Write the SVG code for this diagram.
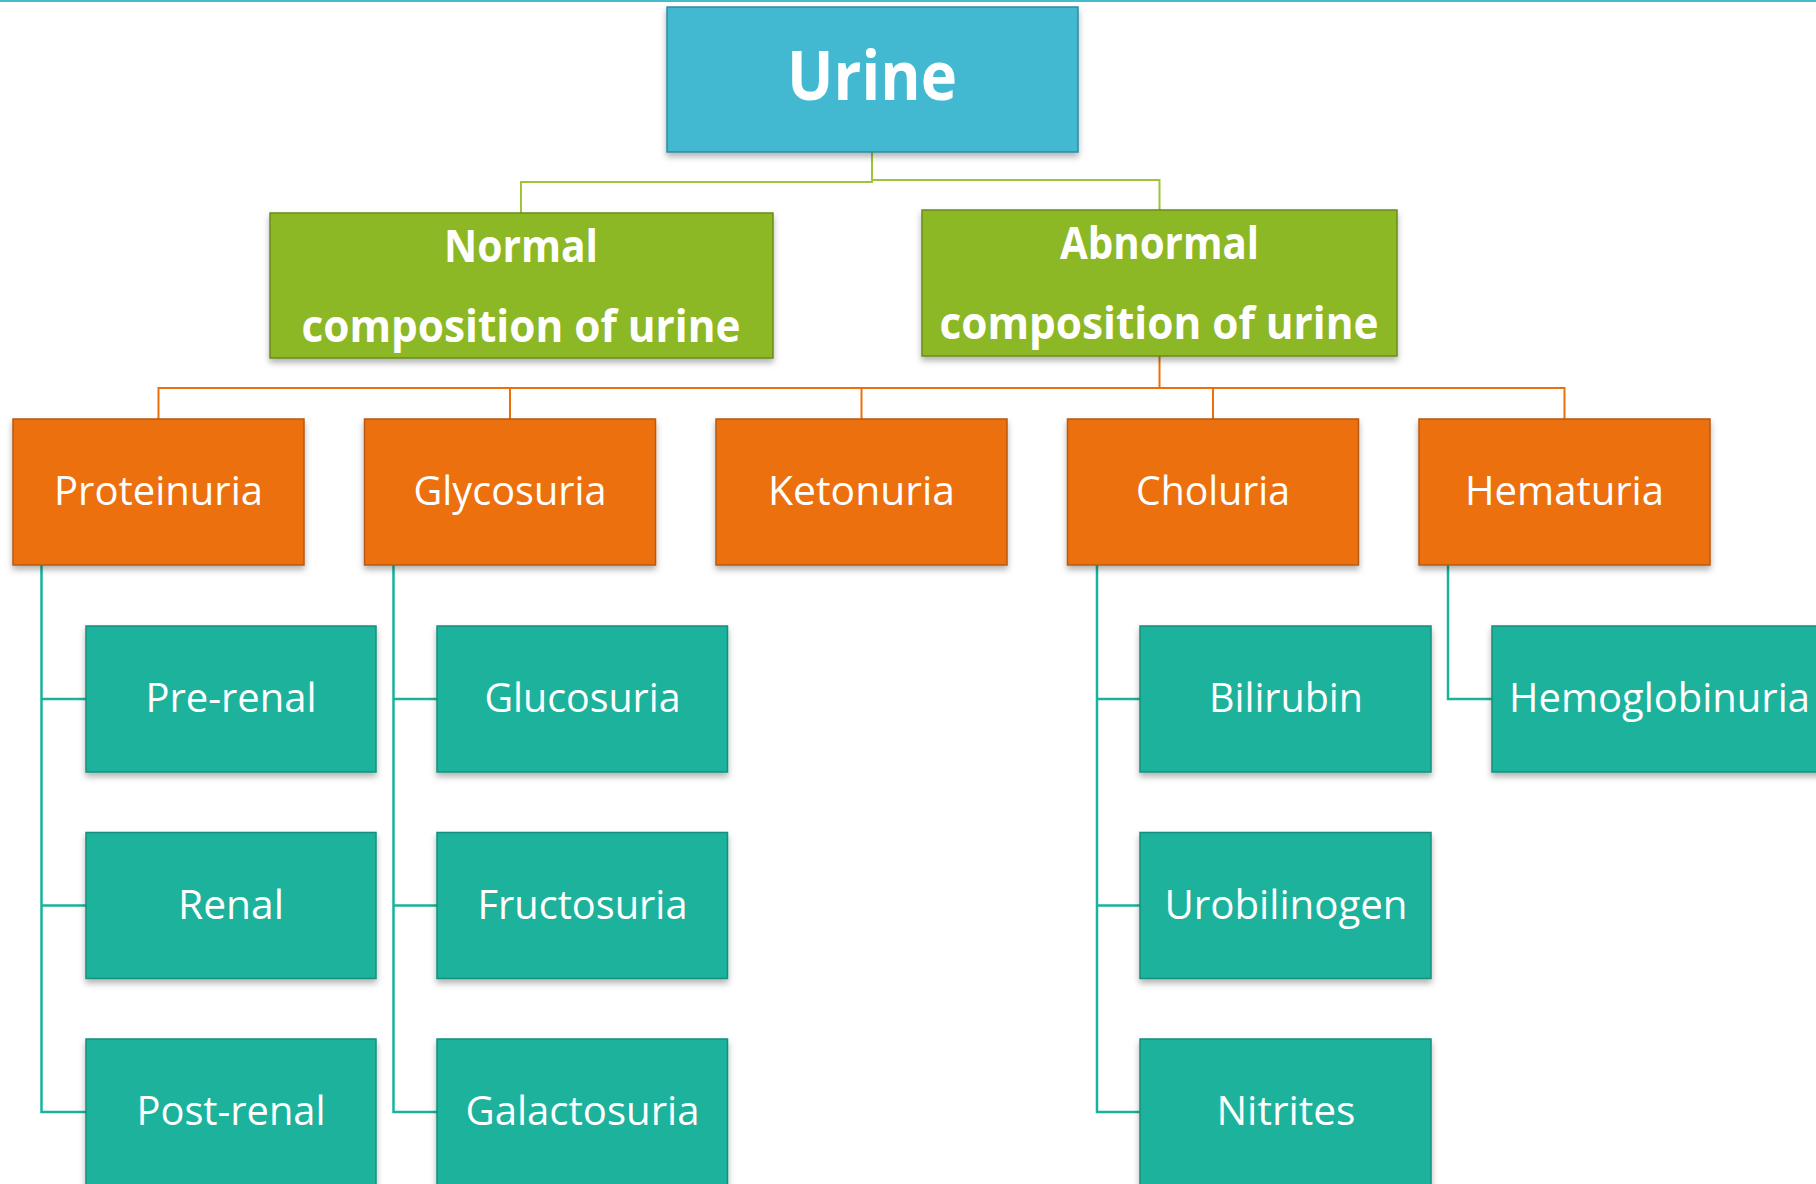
<svg xmlns="http://www.w3.org/2000/svg" width="1816" height="1184" viewBox="0 0 1816 1184">
<defs>
<filter id="sh" x="-10%" y="-10%" width="120%" height="130%">
<feDropShadow dx="0" dy="4" stdDeviation="3" flood-color="#000" flood-opacity="0.3"/>
</filter>
</defs>
<style>
.blue{fill:#42B8D1;stroke:#2E8CA0;stroke-width:1.5}
.green{fill:#8DB825;stroke:#6A8C1A;stroke-width:1.5}
.orange{fill:#EC700A;stroke:#B85A12;stroke-width:1.5}
.teal{fill:#1BB29C;stroke:#15907E;stroke-width:1.5}
.lbl{font-family:"Open Sans","Noto Sans",sans-serif;font-size:40px;fill:#fff;text-anchor:middle}
.title{font-family:"Open Sans","Noto Sans",sans-serif;font-weight:bold;font-size:68px;fill:#fff;text-anchor:middle}
.comic{font-family:"Open Sans","Noto Sans",sans-serif;font-weight:bold;font-size:44px;fill:#fff;text-anchor:middle}
.cg{fill:none;stroke:#9DC43A;stroke-width:2}
.co{fill:none;stroke:#EC700A;stroke-width:2}
.ct{fill:none;stroke:#1BB29C;stroke-width:2.5}
</style>
<rect x="0" y="0" width="1816" height="2" fill="#45BCCD"/>
<g id="connectors">
<path class="cg" d="M872,152 V182 H521 V213"/>
<path class="cg" d="M872,180 H1159.5 V210"/>
<path class="co" d="M1159.5,356 V388"/>
<path class="co" d="M158.5,419 V388 H1564.5 V419"/>
<path class="co" d="M510,388 V419"/>
<path class="co" d="M861.5,388 V419"/>
<path class="co" d="M1213,388 V419"/>
<path class="ct" d="M41.5,565 V1112 H86 M41.5,699 H86 M41.5,905.5 H86"/>
<path class="ct" d="M393.5,565 V1112 H437 M393.5,699 H437 M393.5,905.5 H437"/>
<path class="ct" d="M1097,565 V1112 H1140 M1097,699 H1140 M1097,905.5 H1140"/>
<path class="ct" d="M1448,565 V699 H1492"/>
</g>
<g id="urine"><rect class="blue" filter="url(#sh)" x="667" y="7" width="411" height="145"/><text class="title" x="872" y="100" textLength="170" lengthAdjust="spacingAndGlyphs">Urine</text></g>
<g id="normal"><rect class="green" filter="url(#sh)" x="270" y="213" width="503" height="145"/><text class="comic" x="521" y="262" textLength="154" lengthAdjust="spacingAndGlyphs">Normal</text><text class="comic" x="521" y="342" textLength="439" lengthAdjust="spacingAndGlyphs">composition of urine</text></g>
<g id="abnormal"><rect class="green" filter="url(#sh)" x="922" y="210" width="475" height="146"/><text class="comic" x="1159.5" y="259" textLength="199" lengthAdjust="spacingAndGlyphs">Abnormal</text><text class="comic" x="1159" y="339" textLength="439" lengthAdjust="spacingAndGlyphs">composition of urine</text></g>
<g id="proteinuria"><rect class="orange" filter="url(#sh)" x="13" y="419" width="291" height="146"/><text class="lbl" x="158.5" y="505" textLength="209" lengthAdjust="spacingAndGlyphs">Proteinuria</text></g>
<g id="glycosuria"><rect class="orange" filter="url(#sh)" x="364.5" y="419" width="291" height="146"/><text class="lbl" x="510" y="505" textLength="193" lengthAdjust="spacingAndGlyphs">Glycosuria</text></g>
<g id="ketonuria"><rect class="orange" filter="url(#sh)" x="716" y="419" width="291" height="146"/><text class="lbl" x="861.5" y="505" textLength="187" lengthAdjust="spacingAndGlyphs">Ketonuria</text></g>
<g id="choluria"><rect class="orange" filter="url(#sh)" x="1067.5" y="419" width="291" height="146"/><text class="lbl" x="1213" y="505" textLength="154" lengthAdjust="spacingAndGlyphs">Choluria</text></g>
<g id="hematuria"><rect class="orange" filter="url(#sh)" x="1419" y="419" width="291" height="146"/><text class="lbl" x="1564.5" y="505" textLength="199" lengthAdjust="spacingAndGlyphs">Hematuria</text></g>
<g id="prerenal"><rect class="teal" filter="url(#sh)" x="86" y="626" width="290" height="146"/><text class="lbl" x="231" y="712" textLength="171" lengthAdjust="spacingAndGlyphs">Pre-renal</text></g>
<g id="renal"><rect class="teal" filter="url(#sh)" x="86" y="832.5" width="290" height="146"/><text class="lbl" x="231" y="918.5" textLength="106" lengthAdjust="spacingAndGlyphs">Renal</text></g>
<g id="postrenal"><rect class="teal" filter="url(#sh)" x="86" y="1039" width="290" height="146"/><text class="lbl" x="231" y="1125" textLength="189" lengthAdjust="spacingAndGlyphs">Post-renal</text></g>
<g id="glucosuria"><rect class="teal" filter="url(#sh)" x="437" y="626" width="290.5" height="146"/><text class="lbl" x="582.5" y="712" textLength="196" lengthAdjust="spacingAndGlyphs">Glucosuria</text></g>
<g id="fructosuria"><rect class="teal" filter="url(#sh)" x="437" y="832.5" width="290.5" height="146"/><text class="lbl" x="582.5" y="918.5" textLength="210" lengthAdjust="spacingAndGlyphs">Fructosuria</text></g>
<g id="galactosuria"><rect class="teal" filter="url(#sh)" x="437" y="1039" width="290.5" height="146"/><text class="lbl" x="582.5" y="1125" textLength="234" lengthAdjust="spacingAndGlyphs">Galactosuria</text></g>
<g id="bilirubin"><rect class="teal" filter="url(#sh)" x="1140" y="626" width="291" height="146"/><text class="lbl" x="1286" y="712" textLength="154" lengthAdjust="spacingAndGlyphs">Bilirubin</text></g>
<g id="urobilinogen"><rect class="teal" filter="url(#sh)" x="1140" y="832.5" width="291" height="146"/><text class="lbl" x="1286" y="918.5" textLength="243" lengthAdjust="spacingAndGlyphs">Urobilinogen</text></g>
<g id="nitrites"><rect class="teal" filter="url(#sh)" x="1140" y="1039" width="291" height="146"/><text class="lbl" x="1286" y="1125" textLength="139" lengthAdjust="spacingAndGlyphs">Nitrites</text></g>
<g id="hemoglobinuria"><rect class="teal" filter="url(#sh)" x="1492" y="626" width="340" height="146"/><text class="lbl" x="1659.5" y="712" textLength="301" lengthAdjust="spacingAndGlyphs">Hemoglobinuria</text></g>
</svg>
